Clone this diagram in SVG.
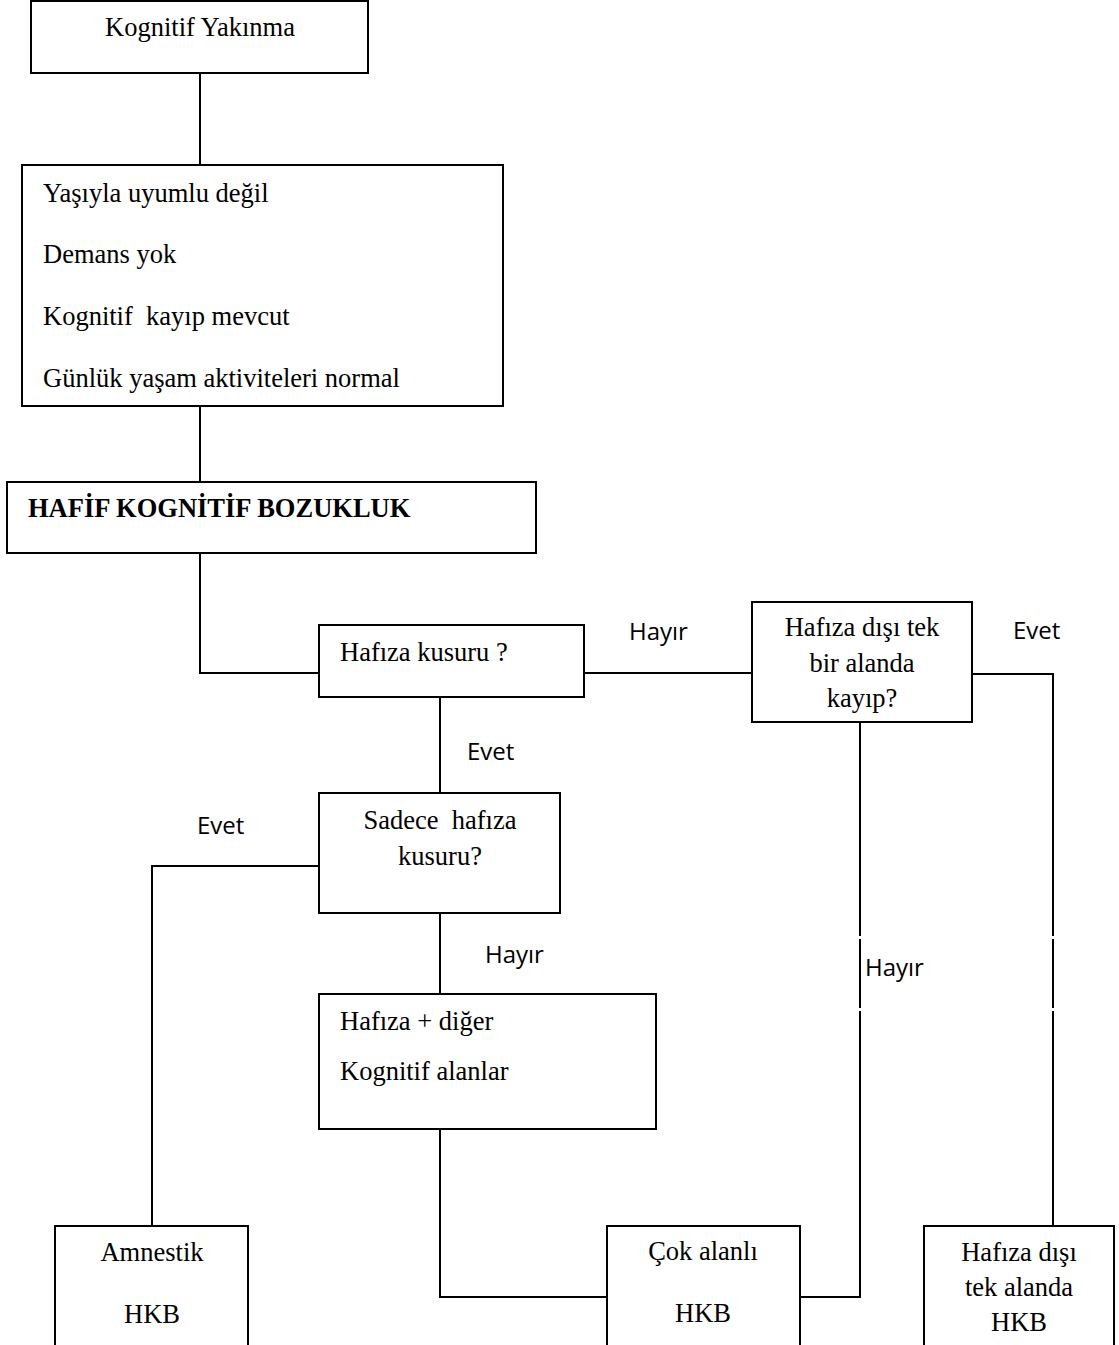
<svg xmlns="http://www.w3.org/2000/svg" width="1119" height="1345" viewBox="0 0 1119 1345">
<style>
.box{fill:#fff;stroke:#000;stroke-width:2}
.ln{fill:none;stroke:#000;stroke-width:2}
.t{font-family:"Liberation Serif","Times New Roman",serif;font-size:26.5px;fill:#000;white-space:pre}
.c{text-anchor:middle}
.b{font-weight:bold}
.s{font-family:"Open Sans","Liberation Sans",sans-serif;font-size:24px;fill:#000}
</style>
<rect width="1119" height="1345" fill="#fff"/>
<g id="connectors">
<path class="ln" d="M200 73V165"/>
<path class="ln" d="M200 406V482"/>
<path class="ln" d="M200 553V673H319"/>
<path class="ln" d="M584 673H752"/>
<path class="ln" d="M972 674H1053V936M1053 939V1008M1053 1011V1226"/>
<path class="ln" d="M860 722V936M860 939V1008M860 1011V1297H800"/>
<path class="ln" d="M440 697V793"/>
<path class="ln" d="M319 866H152V1226"/>
<path class="ln" d="M440 913V994"/>
<path class="ln" d="M440 1129V1297H607"/>
<text class="s" x="629" y="640">Hayır</text>
<text class="s" x="1013" y="639">Evet</text>
<text class="s" x="467" y="760">Evet</text>
<text class="s" x="197" y="834">Evet</text>
<text class="s" x="485" y="963">Hayır</text>
<text class="s" x="865" y="976">Hayır</text>
</g>
<g id="n-kognitif-yakinma">
<rect class="box" x="31" y="1" width="337" height="72"/>
<text class="t c" x="200" y="36">Kognitif Yakınma</text>
</g>
<g id="n-kriterler">
<rect class="box" x="22" y="165" width="481" height="241"/>
<text class="t" x="43" y="202">Yaşıyla uyumlu değil</text>
<text class="t" x="43" y="263">Demans yok</text>
<text class="t" x="43" y="325">Kognitif  kayıp mevcut</text>
<text class="t" x="43" y="387">Günlük yaşam aktiviteleri normal</text>
</g>
<g id="n-hkb">
<rect class="box" x="7" y="482" width="529" height="71"/>
<text class="t b" x="28" y="517">HAFİF KOGNİTİF BOZUKLUK</text>
</g>
<g id="n-hafiza-kusuru">
<rect class="box" x="319" y="625" width="265" height="72"/>
<text class="t" x="340" y="661">Hafıza kusuru ?</text>
</g>
<g id="n-hafiza-disi">
<rect class="box" x="752" y="602" width="220" height="120"/>
<text class="t c" x="862" y="636">Hafıza dışı tek</text>
<text class="t c" x="862" y="672">bir alanda</text>
<text class="t c" x="862" y="707">kayıp?</text>
</g>
<g id="n-sadece">
<rect class="box" x="319" y="793" width="241" height="120"/>
<text class="t c" x="440" y="829">Sadece  hafıza</text>
<text class="t c" x="440" y="865">kusuru?</text>
</g>
<g id="n-hafiza-diger">
<rect class="box" x="319" y="994" width="337" height="135"/>
<text class="t" x="340" y="1030">Hafıza + diğer</text>
<text class="t" x="340" y="1080">Kognitif alanlar</text>
</g>
<g id="n-amnestik">
<rect class="box" x="55" y="1226" width="193" height="120"/>
<text class="t c" x="152" y="1261">Amnestik</text>
<text class="t c" x="152" y="1323">HKB</text>
</g>
<g id="n-cok-alanli">
<rect class="box" x="607" y="1226" width="193" height="120"/>
<text class="t c" x="703" y="1260">Çok alanlı</text>
<text class="t c" x="703" y="1322">HKB</text>
</g>
<g id="n-tek-alan">
<rect class="box" x="924" y="1226" width="190" height="120"/>
<text class="t c" x="1019" y="1261">Hafıza dışı</text>
<text class="t c" x="1019" y="1296">tek alanda</text>
<text class="t c" x="1019" y="1331">HKB</text>
</g>
</svg>
